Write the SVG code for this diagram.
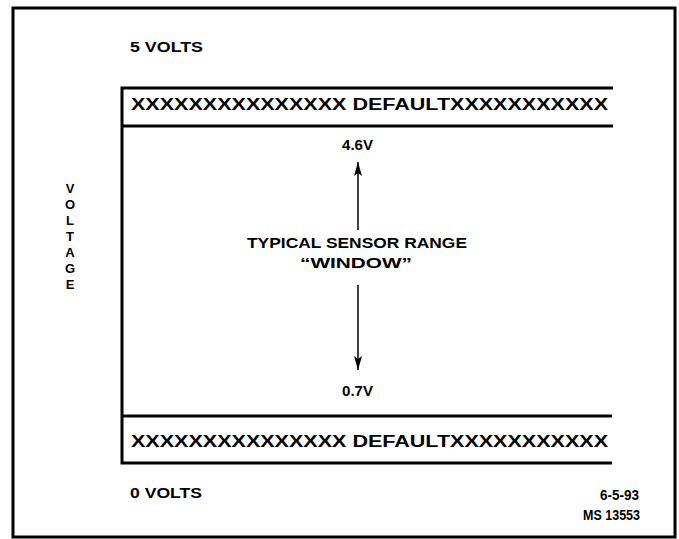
<svg xmlns="http://www.w3.org/2000/svg" width="679" height="539" viewBox="0 0 679 539">
<defs>
<style>
.t{font-family:"Liberation Sans",Arial,sans-serif;font-weight:bold;fill:#000;}
.band{font-size:16px;}
.lbl{font-size:15px;}
.ax{font-size:13px;}
.ln{stroke:#000;stroke-width:3;fill:none;}
</style>
<marker id="ah" markerWidth="14" markerHeight="8" refX="14" refY="4" orient="auto" markerUnits="userSpaceOnUse" viewBox="0 0 14 8">
<path d="M0,0 L14,4 L0,8 L3,4 Z" fill="#000"/>
</marker>
</defs>
<rect x="0" y="0" width="679" height="539" fill="#fff"/>
<g id="frame">
<rect x="13" y="8" width="662" height="529" class="ln"/>
</g>
<g id="chart">
<path class="ln" d="M613,88 H122 V463 H612"/>
<line class="ln" x1="122" y1="126" x2="613" y2="126"/>
<line class="ln" x1="122" y1="416" x2="612" y2="416"/>
</g>
<g id="top-default">
<text class="t band" x="131" y="110" textLength="477" lengthAdjust="spacingAndGlyphs">XXXXXXXXXXXXXXX DEFAULTXXXXXXXXXXX</text>
</g>
<g id="bottom-default">
<text class="t band" x="131" y="447" textLength="477" lengthAdjust="spacingAndGlyphs">XXXXXXXXXXXXXXX DEFAULTXXXXXXXXXXX</text>
</g>
<g id="labels">
<text class="t lbl" x="130" y="52" textLength="73" lengthAdjust="spacingAndGlyphs">5 VOLTS</text>
<text class="t lbl" x="130" y="498" textLength="72" lengthAdjust="spacingAndGlyphs">0 VOLTS</text>
<text class="t lbl" x="600" y="500" textLength="39" lengthAdjust="spacingAndGlyphs">6-5-93</text>
<text class="t lbl" x="583" y="520" textLength="57" lengthAdjust="spacingAndGlyphs">MS 13553</text>
</g>
<g id="axis" class="t ax" text-anchor="middle">
<text x="70" y="193">V</text>
<text x="70" y="209">O</text>
<text x="70" y="225">L</text>
<text x="70" y="241">T</text>
<text x="70" y="257">A</text>
<text x="70" y="273">G</text>
<text x="70" y="289">E</text>
</g>
<g id="v46"><text class="t lbl" x="342" y="150" textLength="31" lengthAdjust="spacingAndGlyphs">4.6V</text></g>
<g id="range">
<text class="t lbl" x="247" y="248" textLength="220" lengthAdjust="spacingAndGlyphs">TYPICAL SENSOR RANGE</text>
<text class="t lbl" x="300" y="268" textLength="112" lengthAdjust="spacingAndGlyphs">“WINDOW”</text>
</g>
<g id="v07"><text class="t lbl" x="342" y="396" textLength="31" lengthAdjust="spacingAndGlyphs">0.7V</text></g>
<g id="connectors">
<line x1="358" y1="230" x2="358" y2="162" stroke="#000" stroke-width="1.5" marker-end="url(#ah)"/>
<line x1="358" y1="285" x2="358" y2="370" stroke="#000" stroke-width="1.5" marker-end="url(#ah)"/>
</g>
</svg>
